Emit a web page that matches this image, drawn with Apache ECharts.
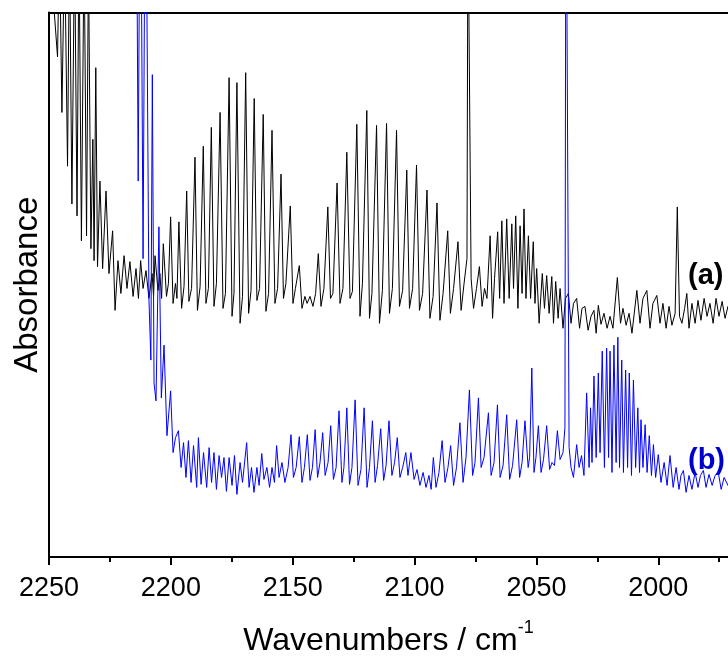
<!DOCTYPE html>
<html>
<head>
<meta charset="utf-8">
<script src="https://cdn.jsdelivr.net/npm/echarts@6/dist/echarts.min.js"></script>
<style>
  html, body { margin: 0; padding: 0; background: #fff; }
  #spectra { width: 728px; height: 662px; }
</style>
</head>
<body>
<div id="spectra"></div>
<script>
// tick labels of the wavenumber axis (cm-1), drawn high to low
var majorTicks = [2250, 2200, 2150, 2100, 2050, 2000];
var minorTicks = [2225, 2175, 2125, 2075, 2025, 1975];

// spectrum (a), black
var aWave = [2250.0, 2249.6, 2246.5, 2245.7, 2244.7, 2243.6, 2242.4, 2241.6, 2240.6, 2239.5, 2238.5,
  2237.7, 2236.7, 2235.6, 2234.6, 2233.8, 2232.8, 2232.0, 2231.5, 2230.8, 2230.1, 2229.1, 2228.0,
  2226.6, 2225.4, 2223.9, 2222.9, 2221.7, 2220.5, 2219.2, 2218.0, 2216.8, 2215.5, 2214.3, 2213.3,
  2212.4, 2211.4, 2210.2, 2209.0, 2207.7, 2207.1, 2206.5, 2205.3, 2204.5, 2203.8, 2203.1, 2201.8,
  2201.0, 2200.1, 2199.1, 2198.1, 2197.5, 2196.7, 2195.6, 2194.6, 2193.5, 2192.6, 2191.5, 2190.1,
  2189.1, 2188.0, 2186.7, 2185.6, 2184.6, 2183.4, 2182.3, 2181.3, 2179.8, 2178.6, 2177.6, 2176.1,
  2174.9, 2174.1, 2172.9, 2171.6, 2170.6, 2169.3, 2168.1, 2167.1, 2165.8, 2164.7, 2163.6, 2162.1,
  2161.0, 2159.9, 2158.5, 2157.3, 2156.2, 2154.8, 2153.8, 2152.8, 2151.0, 2149.9, 2148.9, 2147.3,
  2146.2, 2145.0, 2144.1, 2142.9, 2141.7, 2140.6, 2139.5, 2138.4, 2137.2, 2135.6, 2134.5, 2133.5,
  2131.8, 2130.6, 2129.4, 2127.8, 2126.5, 2125.5, 2123.7, 2122.4, 2121.4, 2119.6, 2118.5, 2117.5,
  2115.6, 2114.4, 2113.2, 2111.5, 2110.3, 2109.1, 2107.4, 2106.2, 2104.9, 2103.2, 2102.1, 2100.8,
  2099.2, 2098.0, 2096.7, 2094.9, 2093.7, 2092.4, 2090.8, 2089.6, 2088.3, 2086.4, 2085.3, 2084.0,
  2082.2, 2080.9, 2079.7, 2078.5, 2078.1, 2077.5, 2076.8, 2075.8, 2074.6, 2073.4, 2072.3, 2071.3,
  2070.3, 2069.0, 2068.0, 2067.2, 2065.9, 2065.1, 2064.2, 2063.3, 2062.2, 2061.2, 2060.1, 2059.4,
  2058.5, 2057.6, 2056.7, 2055.9, 2055.1, 2054.3, 2053.3, 2052.4, 2051.3, 2050.6, 2049.9, 2048.9,
  2047.6, 2046.7, 2045.8, 2044.8, 2043.7, 2043.0, 2042.1, 2041.1, 2040.3, 2039.1, 2038.1, 2036.9,
  2035.8, 2034.8, 2033.5, 2032.3, 2031.3, 2030.1, 2028.8, 2027.6, 2026.4, 2025.5, 2024.6, 2023.5,
  2022.3, 2021.0, 2019.8, 2018.6, 2016.8, 2015.5, 2014.5, 2013.2, 2012.0, 2010.8, 2008.8, 2007.5,
  2006.3, 2004.7, 2003.4, 2002.2, 2000.6, 1999.3, 1998.1, 1996.8, 1995.6, 1994.4, 1993.1, 1992.2,
  1991.3, 1990.3, 1989.2, 1988.3, 1987.4, 1986.2, 1984.9, 1983.7, 1982.5, 1981.2, 1980.0, 1978.8,
  1977.5, 1976.3, 1975.1, 1973.8, 1972.6, 1971.4, 1970.5];
var aAbs = [1.24, 1.24, 1.006, 1.24, 0.894, 1.24, 0.786, 1.24, 0.71, 1.24, 0.686,
  1.24, 0.636, 1.24, 0.646, 1.2, 0.62, 0.84, 0.596, 0.984, 0.584, 0.756, 0.58,
  0.736, 0.57, 0.656, 0.496, 0.596, 0.53, 0.606, 0.54, 0.594, 0.524, 0.58, 0.52,
  0.596, 0.54, 0.576, 0.52, 0.57, 0.524, 0.606, 0.536, 0.57, 0.52, 0.63, 0.524,
  0.55, 0.684, 0.51, 0.55, 0.52, 0.674, 0.5, 0.544, 0.736, 0.514, 0.54, 0.804,
  0.496, 0.544, 0.826, 0.51, 0.54, 0.864, 0.504, 0.55, 0.894, 0.5, 0.53, 0.964,
  0.484, 0.53, 0.954, 0.47, 0.524, 0.974, 0.49, 0.536, 0.922, 0.516, 0.54, 0.89,
  0.494, 0.53, 0.858, 0.51, 0.54, 0.77, 0.52, 0.55, 0.706, 0.51, 0.54, 0.586,
  0.5, 0.524, 0.51, 0.524, 0.504, 0.53, 0.61, 0.504, 0.54, 0.704, 0.52, 0.53,
  0.752, 0.51, 0.54, 0.814, 0.52, 0.534, 0.87, 0.484, 0.55, 0.898, 0.48, 0.53,
  0.868, 0.47, 0.536, 0.872, 0.49, 0.54, 0.858, 0.504, 0.536, 0.778, 0.5, 0.54,
  0.788, 0.496, 0.53, 0.738, 0.48, 0.524, 0.712, 0.476, 0.53, 0.656, 0.49, 0.54,
  0.634, 0.496, 0.55, 0.6, 1.32, 1.32, 0.56, 0.5, 0.54, 0.584, 0.504, 0.54,
  0.52, 0.646, 0.48, 0.56, 0.654, 0.52, 0.676, 0.51, 0.68, 0.52, 0.67, 0.54,
  0.686, 0.5, 0.666, 0.53, 0.7, 0.52, 0.646, 0.52, 0.634, 0.51, 0.58, 0.47,
  0.57, 0.5, 0.566, 0.49, 0.564, 0.47, 0.554, 0.48, 0.54, 0.46, 0.52, 0.53,
  0.47, 0.51, 0.52, 0.46, 0.5, 0.504, 0.456, 0.484, 0.496, 0.45, 0.506, 0.468,
  0.49, 0.46, 0.484, 0.46, 0.562, 0.47, 0.5, 0.466, 0.49, 0.45, 0.536, 0.47,
  0.52, 0.536, 0.46, 0.51, 0.526, 0.47, 0.51, 0.46, 0.504, 0.466, 0.49, 0.704,
  0.484, 0.47, 0.5, 0.53, 0.46, 0.51, 0.47, 0.516, 0.476, 0.52, 0.484, 0.51,
  0.47, 0.52, 0.484, 0.514, 0.48, 0.504, 0.49];

// spectrum (b), blue
var bWave = [2250.0, 2214.3, 2213.4, 2212.5, 2211.4, 2210.4, 2209.0, 2208.2, 2207.6, 2206.9, 2206.1,
  2204.9, 2203.9, 2202.8, 2201.6, 2200.1, 2199.1, 2198.1, 2196.9, 2195.8, 2194.8, 2193.8, 2192.8,
  2191.7, 2190.7, 2189.4, 2188.7, 2187.6, 2186.6, 2185.3, 2184.3, 2183.3, 2182.3, 2181.3, 2180.2,
  2179.2, 2178.2, 2177.2, 2176.1, 2174.9, 2173.9, 2172.9, 2171.6, 2170.6, 2168.9, 2167.9, 2166.9,
  2165.9, 2164.7, 2163.8, 2162.7, 2161.8, 2160.6, 2159.5, 2158.5, 2157.5, 2156.6, 2155.6, 2154.4,
  2153.2, 2151.9, 2150.7, 2149.7, 2148.6, 2147.3, 2146.2, 2145.2, 2144.0, 2142.9, 2141.9, 2140.8,
  2139.8, 2138.8, 2137.7, 2136.7, 2135.5, 2134.4, 2133.3, 2132.2, 2131.0, 2129.8, 2129.0, 2127.8,
  2126.7, 2125.7, 2124.4, 2123.2, 2122.0, 2120.7, 2119.5, 2118.5, 2117.3, 2116.2, 2115.2, 2113.9,
  2112.7, 2111.7, 2110.5, 2109.3, 2108.2, 2107.1, 2106.0, 2104.9, 2103.6, 2102.7, 2101.5, 2100.2,
  2099.0, 2097.8, 2096.5, 2095.3, 2094.1, 2093.2, 2092.3, 2091.2, 2090.0, 2088.7, 2087.5, 2086.3,
  2085.2, 2084.0, 2082.8, 2081.4, 2080.1, 2078.9, 2077.5, 2076.2, 2075.2, 2073.8, 2072.7, 2071.5,
  2069.7, 2068.6, 2067.4, 2066.0, 2064.9, 2063.7, 2062.2, 2061.0, 2059.8, 2058.1, 2056.9, 2055.9,
  2054.7, 2053.4, 2052.8, 2051.9, 2051.0, 2050.2, 2049.2, 2048.1, 2047.1, 2045.8, 2044.6, 2043.6,
  2042.6, 2041.4, 2040.3, 2039.1, 2038.3, 2037.9, 2037.2, 2036.6, 2035.8, 2034.8, 2033.5, 2032.5,
  2031.5, 2030.5, 2029.4, 2028.4, 2027.8, 2027.2, 2026.4, 2025.5, 2024.6, 2023.9, 2023.0, 2022.1,
  2021.2, 2020.4, 2019.8, 2019.0, 2018.2, 2017.3, 2016.6, 2015.9, 2015.0, 2014.3, 2013.4, 2012.6,
  2011.9, 2011.0, 2010.2, 2009.3, 2008.4, 2007.7, 2007.1, 2006.3, 2005.4, 2004.6, 2003.7, 2002.8,
  2002.0, 2001.1, 2000.0, 1998.9, 1997.6, 1996.4, 1995.2, 1993.9, 1992.7, 1991.5, 1990.7, 1989.7,
  1988.6, 1987.4, 1986.2, 1984.9, 1983.7, 1982.7, 1981.5, 1980.4, 1979.2, 1977.9, 1976.7, 1975.4,
  1974.2, 1973.0, 1971.4, 1970.5];
var bAbs = [1.52, 1.52, 0.756, 1.52, 0.6, 1.52, 0.52, 0.396, 0.97, 0.35, 0.314,
  0.664, 0.32, 0.426, 0.244, 0.334, 0.21, 0.24, 0.254, 0.18, 0.23, 0.16, 0.234,
  0.15, 0.224, 0.14, 0.24, 0.146, 0.21, 0.14, 0.22, 0.15, 0.21, 0.136, 0.204,
  0.16, 0.2, 0.132, 0.2, 0.144, 0.204, 0.126, 0.19, 0.15, 0.23, 0.14, 0.18,
  0.13, 0.18, 0.144, 0.208, 0.156, 0.18, 0.14, 0.18, 0.15, 0.224, 0.16, 0.19,
  0.15, 0.18, 0.246, 0.16, 0.18, 0.242, 0.15, 0.18, 0.246, 0.154, 0.18, 0.256,
  0.16, 0.19, 0.25, 0.164, 0.19, 0.264, 0.156, 0.18, 0.294, 0.15, 0.18, 0.3,
  0.146, 0.18, 0.316, 0.144, 0.176, 0.3, 0.14, 0.18, 0.274, 0.15, 0.184, 0.258,
  0.154, 0.184, 0.274, 0.164, 0.19, 0.24, 0.16, 0.18, 0.21, 0.164, 0.21, 0.156,
  0.176, 0.144, 0.17, 0.14, 0.164, 0.136, 0.2, 0.14, 0.17, 0.234, 0.15, 0.18,
  0.224, 0.144, 0.18, 0.27, 0.15, 0.2, 0.336, 0.164, 0.19, 0.32, 0.18, 0.2,
  0.29, 0.164, 0.19, 0.306, 0.16, 0.184, 0.286, 0.156, 0.184, 0.276, 0.16, 0.19,
  0.274, 0.18, 0.2, 0.38, 0.17, 0.2, 0.264, 0.17, 0.196, 0.264, 0.176, 0.19,
  0.184, 0.254, 0.196, 0.21, 0.26, 1.52, 1.52, 0.22, 0.18, 0.16, 0.226, 0.18,
  0.204, 0.164, 0.33, 0.18, 0.3, 0.19, 0.364, 0.2, 0.37, 0.21, 0.414, 0.18,
  0.42, 0.2, 0.414, 0.17, 0.426, 0.19, 0.442, 0.18, 0.396, 0.17, 0.376, 0.18,
  0.37, 0.164, 0.356, 0.18, 0.3, 0.17, 0.276, 0.18, 0.266, 0.17, 0.244, 0.164,
  0.226, 0.16, 0.206, 0.15, 0.19, 0.144, 0.204, 0.14, 0.18, 0.136, 0.164, 0.174,
  0.13, 0.164, 0.136, 0.17, 0.14, 0.164, 0.174, 0.14, 0.166, 0.144, 0.164, 0.17,
  0.136, 0.16, 0.144, 0.15];

function pairs(xs, ys) {
  var out = [];
  for (var i = 0; i < xs.length; i++) {
    out.push([xs[i], ys[i]]);
  }
  return out;
}

var myChart = echarts.init(document.getElementById('spectra'), null, { renderer: 'canvas' });

var fontName = 'Liberation Sans, Arial, sans-serif';
var xMin = 1971.4, xMax = 2250;

var option = {
  animation: false,
  backgroundColor: '#fff',
  grid: { left: 49, right: 0, top: 12.5, bottom: 102, containLabel: false },
  xAxis: [
    {
      type: 'value', inverse: true, min: xMin, max: xMax, position: 'bottom',
      splitLine: { show: false },
      axisLine: { show: true, lineStyle: { color: '#000', width: 2 } },
      axisTick: { show: true, inside: false, length: 8, lineStyle: { color: '#000', width: 2 },
        customValues: majorTicks },
      axisLabel: { show: true, margin: 18, color: '#000', fontSize: 27, fontFamily: fontName,
        customValues: majorTicks,
        formatter: function (v) { return String(v); } },
      name: '{t|Wavenumbers / cm}{s|-1}',
      nameLocation: 'middle', nameGap: 62,
      nameTextStyle: {
        rich: {
          t: { fontSize: 32, fontFamily: fontName, color: '#000', lineHeight: 38, verticalAlign: 'bottom' },
          s: { fontSize: 18, fontFamily: fontName, color: '#000', lineHeight: 38, verticalAlign: 'top' }
        }
      }
    },
    {
      // minor ticks, shorter
      type: 'value', inverse: true, min: xMin, max: xMax, position: 'bottom',
      splitLine: { show: false },
      axisLine: { show: false },
      axisTick: { show: true, inside: false, length: 5, lineStyle: { color: '#000', width: 2 },
        customValues: minorTicks },
      axisLabel: { show: false }
    },
    {
      // frame line on top
      type: 'value', inverse: true, min: xMin, max: xMax, position: 'top',
      splitLine: { show: false },
      axisLine: { show: true, lineStyle: { color: '#000', width: 2 } },
      axisTick: { show: false },
      axisLabel: { show: false }
    }
  ],
  yAxis: {
    type: 'value', min: 0, max: 1.095,
    splitLine: { show: false },
    axisLine: { show: true, lineStyle: { color: '#000', width: 2 } },
    axisTick: { show: false },
    axisLabel: { show: false },
    name: 'Absorbance', nameLocation: 'middle', nameRotate: 90, nameGap: 5,
    nameTextStyle: { fontSize: 33, fontFamily: fontName, color: '#000' }
  },
  graphic: [
    { type: 'text', left: 688, top: 261,
      style: { text: '(a)', fill: '#000', font: 'bold 29px ' + fontName } },
    { type: 'text', left: 688, top: 446,
      style: { text: '(b)', fill: '#0000cc', font: 'bold 29px ' + fontName } }
  ],
  series: [
    {
      name: '(a)', type: 'line', xAxisIndex: 0, data: pairs(aWave, aAbs),
      showSymbol: false, clip: true,
      lineStyle: { color: '#000', width: 1 }
    },
    {
      name: '(b)', type: 'line', xAxisIndex: 0, data: pairs(bWave, bAbs),
      showSymbol: false, clip: true,
      lineStyle: { color: '#0000ff', width: 1 }
    }
  ]
};

myChart.setOption(option);
</script>
</body>
</html>
